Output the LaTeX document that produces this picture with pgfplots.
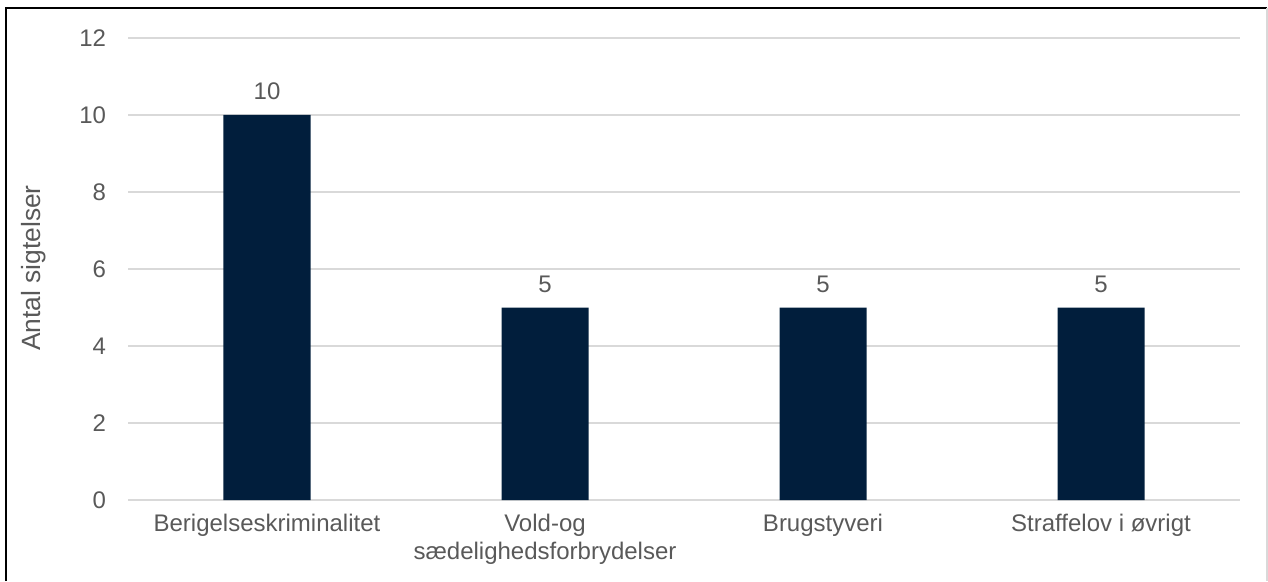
\documentclass[border=0pt]{standalone}
\usepackage{pgfplots}
\pgfplotsset{compat=1.18}
\usepackage{fontspec}
\setmainfont{Liberation Sans}
\definecolor{barcol}{HTML}{011E3C}
\definecolor{txt}{HTML}{595959}
\definecolor{gridc}{HTML}{D9D9D9}
\begin{document}
\begin{tikzpicture}[x=1bp,y=1bp]
\useasboundingbox (0,0) rectangle (634,290.5);
\begin{axis}[
  at={(64bp,40.5bp)}, anchor=south west,
  scale only axis, width=556bp, height=231bp,
  xmin=-0.5, xmax=3.5, ymin=0, ymax=12,
  ytick={0,2,...,12},
  xtick={0,1,2,3},
  xticklabels={Berigelseskriminalitet, {Vold-og\\sædelighedsforbrydelser}, Brugstyveri, Straffelov i øvrigt},
  axis line style={draw=none},
  major tick length=0pt,
  tick style={draw=none},
  ymajorgrids,
  grid style={gridc, line width=0.7bp},
  /pgf/number format/assume math mode=true,
  tick label style={font=\fontsize{12bp}{14bp}\selectfont, text=txt},
  y tick label style={anchor=east, xshift=-7.5bp},
  x tick label style={align=center, anchor=north, yshift=-3.5bp},
  ylabel={Antal sigtelser},
  ylabel style={at={(axis description cs:-0.0846,0.502)}, anchor=center, font=\fontsize{13.2bp}{15bp}\selectfont, text=txt},
  ybar, bar width=0.313,
  nodes near coords,
  nodes near coords style={font=\fontsize{12bp}{14bp}\selectfont, text=txt, anchor=south, yshift=4bp},
]
\addplot[fill=barcol, draw=none] coordinates {(0,10) (1,5) (2,5) (3,5)};
\end{axis}
\draw[black, line width=1bp] (3,0) -- (3,286.5) -- (633.5,286.5);
\draw[gridc, line width=0.7bp] (633.5,286.5) -- (633.5,0);
\end{tikzpicture}
\end{document}
